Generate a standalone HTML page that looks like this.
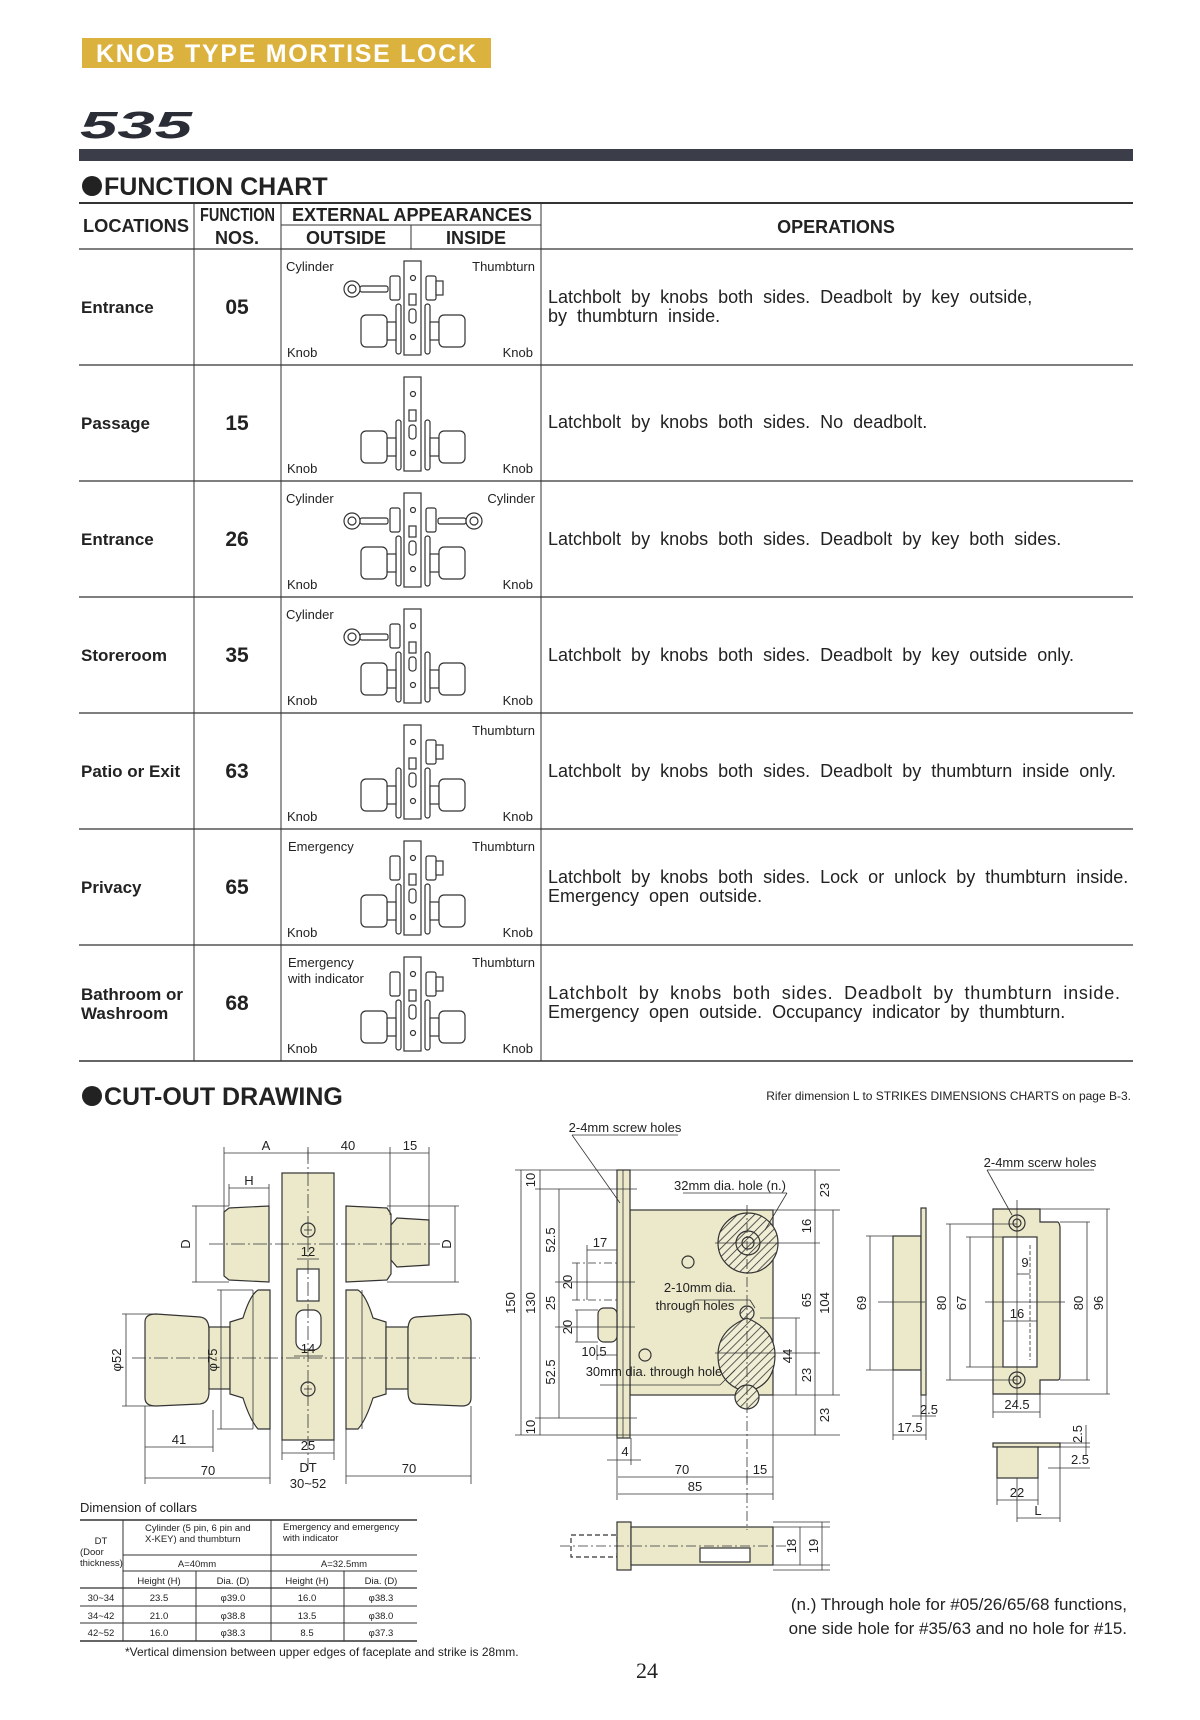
<!DOCTYPE html>
<html><head><meta charset="utf-8"><style>
html,body{margin:0;padding:0;background:#fff}
svg{display:block}
text{font-family:"Liberation Sans",sans-serif;fill:#222}
.n{font-family:"Liberation Sans Narrow","Liberation Sans",sans-serif}
.op text{word-spacing:5px}
</style></head><body>
<svg width="1200" height="1720" viewBox="0 0 1200 1720" xmlns="http://www.w3.org/2000/svg">
<defs>
<g id="base" stroke="#333" stroke-width="1.2" fill="#fff">
 <rect x="404" y="12" width="17" height="94"/>
 <circle cx="413" cy="29" r="2.5"/><circle cx="413" cy="88" r="2.5"/>
 <rect x="409" y="45" width="7" height="11"/><rect x="409" y="60" width="7" height="14" rx="3"/>
 <rect x="396" y="55" width="5" height="50" rx="2.5"/>
 <rect x="387" y="73" width="9" height="18"/>
 <rect x="361" y="66" width="26" height="32" rx="5"/>
 <rect x="425" y="55" width="5" height="50" rx="2.5"/>
 <rect x="430" y="73" width="9" height="18"/>
 <rect x="439" y="66" width="26" height="32" rx="5"/>
</g>
<g id="lcyl" stroke="#333" stroke-width="1.2" fill="#fff"><rect x="390" y="27" width="10" height="24" rx="2"/></g>
<g id="lkey" stroke="#333" stroke-width="1.2" fill="#fff">
 <rect x="360" y="37" width="28" height="6" rx="2"/><circle cx="352" cy="40" r="8"/><circle cx="352" cy="40" r="4"/></g>
<g id="rcyl" stroke="#333" stroke-width="1.2" fill="#fff"><rect x="426" y="27" width="10" height="24" rx="2"/></g>
<g id="tt" stroke="#333" stroke-width="1.2" fill="#fff"><rect x="436" y="32" width="7" height="14"/></g>
<g id="rkey" stroke="#333" stroke-width="1.2" fill="#fff">
 <rect x="438" y="37" width="28" height="6" rx="2"/><circle cx="474" cy="40" r="8"/><circle cx="474" cy="40" r="4"/></g>
<pattern id="hat" width="6" height="6" patternUnits="userSpaceOnUse" patternTransform="rotate(45)">
 <rect width="6" height="6" fill="#f1eed6"/><line x1="0" y1="0" x2="0" y2="6" stroke="#333" stroke-width="1.6"/></pattern>
</defs>

<!-- header -->
<rect x="82" y="38" width="409" height="30" fill="#dcb23e"/>
<text x="96" y="62" font-size="25" font-weight="bold" style="fill:#fff" textLength="380">KNOB TYPE MORTISE LOCK</text>
<text x="80" y="138" font-size="38" font-weight="bold" font-style="italic" style="fill:#2b2d36" textLength="112" lengthAdjust="spacingAndGlyphs">535</text>
<rect x="79" y="149" width="1054" height="12" fill="#3b3e49"/>
<circle cx="92" cy="186" r="10" fill="#222"/>
<text x="104" y="195" font-size="25" font-weight="bold">FUNCTION CHART</text>

<!-- table lines -->
<g stroke="#333" fill="none">
 <line x1="79" y1="203" x2="1133" y2="203" stroke-width="2"/>
 <line x1="281" y1="225" x2="541" y2="225" stroke-width="1"/>
 <line x1="79" y1="249" x2="1133" y2="249" stroke-width="1.3"/>
 <line x1="79" y1="365" x2="1133" y2="365" stroke-width="1.3"/>
 <line x1="79" y1="481" x2="1133" y2="481" stroke-width="1.3"/>
 <line x1="79" y1="597" x2="1133" y2="597" stroke-width="1.3"/>
 <line x1="79" y1="713" x2="1133" y2="713" stroke-width="1.3"/>
 <line x1="79" y1="829" x2="1133" y2="829" stroke-width="1.3"/>
 <line x1="79" y1="945" x2="1133" y2="945" stroke-width="1.3"/>
 <line x1="79" y1="1061" x2="1133" y2="1061" stroke-width="1.6"/>
 <line x1="194" y1="203" x2="194" y2="1061" stroke-width="1"/>
 <line x1="281" y1="203" x2="281" y2="1061" stroke-width="1"/>
 <line x1="541" y1="203" x2="541" y2="1061" stroke-width="1"/>
 <line x1="411" y1="225" x2="411" y2="249" stroke-width="1"/>
</g>
<g font-size="18" font-weight="bold">
 <text x="83" y="232" textLength="106" lengthAdjust="spacingAndGlyphs">LOCATIONS</text>
 <text x="200" y="221" textLength="75" lengthAdjust="spacingAndGlyphs">FUNCTION</text>
 <text x="237" y="244" text-anchor="middle">NOS.</text>
 <text x="292" y="221" textLength="240" lengthAdjust="spacingAndGlyphs">EXTERNAL APPEARANCES</text>
 <text x="346" y="244" text-anchor="middle">OUTSIDE</text>
 <text x="476" y="244" text-anchor="middle">INSIDE</text>
 <text x="836" y="233" text-anchor="middle">OPERATIONS</text>
</g>

<!-- rows -->
<g font-size="17" font-weight="bold">
 <text x="81" y="313">Entrance</text>
 <text x="81" y="429">Passage</text>
 <text x="81" y="545">Entrance</text>
 <text x="81" y="661">Storeroom</text>
 <text x="81" y="777">Patio or Exit</text>
 <text x="81" y="893">Privacy</text>
 <text x="81" y="1000">Bathroom or</text>
 <text x="81" y="1019">Washroom</text>
</g>
<g font-size="21" font-weight="bold" text-anchor="middle">
 <text x="237" y="314">05</text><text x="237" y="430">15</text><text x="237" y="546">26</text>
 <text x="237" y="662">35</text><text x="237" y="778">63</text><text x="237" y="894">65</text><text x="237" y="1010">68</text>
</g>
<g font-size="18" class="op">
 <text x="548" y="303">Latchbolt by knobs both sides. Deadbolt by key outside,</text>
 <text x="548" y="322">by thumbturn inside.</text>
 <text x="548" y="428">Latchbolt by knobs both sides. No deadbolt.</text>
 <text x="548" y="545">Latchbolt by knobs both sides. Deadbolt by key both sides.</text>
 <text x="548" y="661">Latchbolt by knobs both sides. Deadbolt by key outside only.</text>
 <text x="548" y="777">Latchbolt by knobs both sides. Deadbolt by thumbturn inside only.</text>
 <text x="548" y="883">Latchbolt by knobs both sides. Lock or unlock by thumbturn inside.</text>
 <text x="548" y="902">Emergency open outside.</text>
 <text x="548" y="999" textLength="572">Latchbolt by knobs both sides. Deadbolt by thumbturn inside.</text>
 <text x="548" y="1018">Emergency open outside. Occupancy indicator by thumbturn.</text>
</g>

<!-- icons -->
<g transform="translate(0,249)"><use href="#base"/><use href="#lcyl"/><use href="#lkey"/><use href="#rcyl"/><use href="#tt"/></g>
<g transform="translate(0,365)"><use href="#base"/></g>
<g transform="translate(0,481)"><use href="#base"/><use href="#lcyl"/><use href="#lkey"/><use href="#rcyl"/><use href="#rkey"/></g>
<g transform="translate(0,597)"><use href="#base"/><use href="#lcyl"/><use href="#lkey"/></g>
<g transform="translate(0,713)"><use href="#base"/><use href="#rcyl"/><use href="#tt"/></g>
<g transform="translate(0,829)"><use href="#base"/><use href="#lcyl"/><use href="#rcyl"/><use href="#tt"/></g>
<g transform="translate(0,945)"><use href="#base"/><use href="#lcyl"/><use href="#rcyl"/><use href="#tt"/></g>

<g font-size="13" class="n">
 <text x="286" y="271">Cylinder</text><text x="535" y="271" text-anchor="end">Thumbturn</text>
 <text x="287" y="357">Knob</text><text x="533" y="357" text-anchor="end">Knob</text>
 <text x="287" y="473">Knob</text><text x="533" y="473" text-anchor="end">Knob</text>
 <text x="286" y="503">Cylinder</text><text x="535" y="503" text-anchor="end">Cylinder</text>
 <text x="287" y="589">Knob</text><text x="533" y="589" text-anchor="end">Knob</text>
 <text x="286" y="619">Cylinder</text>
 <text x="287" y="705">Knob</text><text x="533" y="705" text-anchor="end">Knob</text>
 <text x="535" y="735" text-anchor="end">Thumbturn</text>
 <text x="287" y="821">Knob</text><text x="533" y="821" text-anchor="end">Knob</text>
 <text x="288" y="851">Emergency</text><text x="535" y="851" text-anchor="end">Thumbturn</text>
 <text x="287" y="937">Knob</text><text x="533" y="937" text-anchor="end">Knob</text>
 <text x="288" y="967">Emergency</text><text x="288" y="983">with indicator</text><text x="535" y="967" text-anchor="end">Thumbturn</text>
 <text x="287" y="1053">Knob</text><text x="533" y="1053" text-anchor="end">Knob</text>
</g>

<!-- CUT-OUT -->
<circle cx="92" cy="1096" r="10" fill="#222"/>
<text x="104" y="1105" font-size="25" font-weight="bold">CUT-OUT DRAWING</text>
<text x="1131" y="1100" font-size="12" text-anchor="end" class="n">Rifer dimension L to STRIKES DIMENSIONS CHARTS on page B-3.</text>

<!-- left assembly -->
<g stroke="#333" stroke-width="1.2" fill="#ece9cb">
 <rect x="282" y="1173" width="52" height="267"/>
 <path d="M224 1212 L229 1208 L269 1206 L269 1282 L229 1280 L224 1276 Z"/>
 <path d="M346 1206 L387 1208 L391 1214 L391 1274 L387 1280 L346 1282 Z"/>
 <path d="M391 1225 L397 1218 L429 1220 L429 1265 L397 1267 L391 1260 Z"/>
 <path d="M145 1322 Q145 1314 156 1314 L200 1317 Q209 1318 209 1330 L209 1392 Q209 1403 200 1404 L156 1406 Q145 1406 145 1398 Z"/>
 <rect x="209" y="1327" width="21" height="62"/>
 <path d="M230 1322 L243 1318 Q250 1295 258 1290 L270 1290 L270 1429 L258 1429 Q250 1420 243 1398 L230 1394 Z"/>
 <path d="M346 1290 L358 1290 Q366 1295 373 1318 L386 1322 L386 1394 L373 1398 Q366 1420 358 1429 L346 1429 Z"/>
 <rect x="386" y="1327" width="22" height="62"/>
 <path d="M408 1330 Q408 1318 416 1317 L462 1314 Q471 1314 471 1322 L471 1398 Q471 1406 462 1406 L416 1404 Q408 1403 408 1392 Z"/>
 <rect x="297" y="1269" width="22" height="32" fill="#fff"/>
 <rect x="296" y="1310" width="25" height="40" rx="8" fill="#fff"/>
 <circle cx="308" cy="1230" r="7"/><circle cx="308" cy="1389" r="7"/>
</g>
<g stroke="#333" stroke-width="0.8" fill="none">
 <line x1="253" y1="1290" x2="253" y2="1429"/><line x1="362" y1="1290" x2="362" y2="1429"/>
 <line x1="304" y1="1230" x2="312" y2="1230"/><line x1="308" y1="1226" x2="308" y2="1234"/>
 <line x1="304" y1="1389" x2="312" y2="1389"/><line x1="308" y1="1385" x2="308" y2="1393"/>
 <line x1="209" y1="1244" x2="440" y2="1244" stroke-dasharray="14 3 2 3"/>
 <line x1="132" y1="1358" x2="480" y2="1358" stroke-dasharray="14 3 2 3"/>
 <line x1="308" y1="1150" x2="308" y2="1470" stroke-dasharray="14 3 2 3"/>
 <line x1="224" y1="1153" x2="429" y2="1153"/>
 <line x1="224" y1="1147" x2="224" y2="1212"/><line x1="308" y1="1147" x2="308" y2="1160"/><line x1="390" y1="1147" x2="390" y2="1215"/><line x1="429" y1="1147" x2="429" y2="1220"/>
 <line x1="229" y1="1188" x2="269" y2="1188"/><line x1="229" y1="1184" x2="229" y2="1206"/><line x1="269" y1="1184" x2="269" y2="1206"/>
 <line x1="196" y1="1206" x2="196" y2="1282"/><line x1="192" y1="1206" x2="229" y2="1206"/><line x1="192" y1="1282" x2="229" y2="1282"/>
 <line x1="455" y1="1206" x2="455" y2="1282"/><line x1="387" y1="1206" x2="459" y2="1206"/><line x1="387" y1="1282" x2="459" y2="1282"/>
 <line x1="126" y1="1314" x2="126" y2="1406"/><line x1="122" y1="1314" x2="156" y2="1314"/><line x1="122" y1="1406" x2="156" y2="1406"/>
 <line x1="221" y1="1290" x2="221" y2="1429"/><line x1="217" y1="1290" x2="253" y2="1290"/><line x1="217" y1="1429" x2="253" y2="1429"/>
 <line x1="145" y1="1406" x2="145" y2="1484"/><line x1="213" y1="1410" x2="213" y2="1452"/><line x1="145" y1="1447" x2="213" y2="1447"/>
 <line x1="145" y1="1478" x2="270" y2="1478"/><line x1="270" y1="1429" x2="270" y2="1484"/>
 <line x1="346" y1="1429" x2="346" y2="1484"/><line x1="471" y1="1406" x2="471" y2="1484"/><line x1="346" y1="1476" x2="471" y2="1476"/>
 <line x1="282" y1="1440" x2="282" y2="1460"/><line x1="334" y1="1440" x2="334" y2="1460"/><line x1="282" y1="1453" x2="334" y2="1453"/>
 <line x1="297" y1="1259" x2="319" y2="1259"/><line x1="294" y1="1356" x2="323" y2="1356"/>
</g>
<g font-size="13" class="n" text-anchor="middle">
 <text x="266" y="1150">A</text><text x="348" y="1150">40</text><text x="410" y="1150">15</text>
 <text x="249" y="1185">H</text><text x="308" y="1256">12</text><text x="308" y="1353">14</text>
 <text x="179" y="1444">41</text><text x="308" y="1450">25</text><text x="208" y="1475">70</text><text x="409" y="1473">70</text>
 <text x="308" y="1472">DT</text><text x="308" y="1488">30~52</text>
 <text transform="translate(190,1244) rotate(-90)">D</text>
 <text transform="translate(451,1244) rotate(-90)">D</text>
 <text transform="translate(121,1360) rotate(-90)">φ52</text>
 <text transform="translate(217,1360) rotate(-90)">φ75</text>
</g>

<!-- collars table -->
<text x="80" y="1512" font-size="13" class="n">Dimension of collars</text>
<g stroke="#333" fill="none">
 <line x1="80" y1="1520" x2="417" y2="1520" stroke-width="1.5"/>
 <line x1="123" y1="1555" x2="417" y2="1555"/><line x1="123" y1="1571" x2="417" y2="1571"/>
 <line x1="80" y1="1588" x2="417" y2="1588" stroke-width="1.3"/>
 <line x1="80" y1="1606" x2="417" y2="1606"/><line x1="80" y1="1623" x2="417" y2="1623"/>
 <line x1="80" y1="1641" x2="417" y2="1641" stroke-width="1.5"/>
 <line x1="123" y1="1520" x2="123" y2="1641"/><line x1="271" y1="1520" x2="271" y2="1641"/>
 <line x1="196" y1="1571" x2="196" y2="1641"/><line x1="344" y1="1571" x2="344" y2="1641"/>
</g>
<g font-size="9.5" class="n">
 <text x="101" y="1544" text-anchor="middle">DT</text><text x="80" y="1555">(Door</text><text x="80" y="1566">thickness)</text>
 <text x="145" y="1531">Cylinder (5 pin, 6 pin and</text><text x="145" y="1542">X-KEY) and thumbturn</text>
 <text x="283" y="1530">Emergency and emergency</text><text x="283" y="1541">with indicator</text>
 <text x="197" y="1567" text-anchor="middle">A=40mm</text><text x="344" y="1567" text-anchor="middle">A=32.5mm</text>
 <g text-anchor="middle">
 <text x="159" y="1584">Height (H)</text><text x="233" y="1584">Dia. (D)</text><text x="307" y="1584">Height (H)</text><text x="381" y="1584">Dia. (D)</text>
 <text x="101" y="1601">30~34</text><text x="159" y="1601">23.5</text><text x="233" y="1601">φ39.0</text><text x="307" y="1601">16.0</text><text x="381" y="1601">φ38.3</text>
 <text x="101" y="1619">34~42</text><text x="159" y="1619">21.0</text><text x="233" y="1619">φ38.8</text><text x="307" y="1619">13.5</text><text x="381" y="1619">φ38.0</text>
 <text x="101" y="1636">42~52</text><text x="159" y="1636">16.0</text><text x="233" y="1636">φ38.3</text><text x="307" y="1636">8.5</text><text x="381" y="1636">φ37.3</text>
 </g>
</g>
<text x="125" y="1656" font-size="12" class="n">*Vertical dimension between upper edges of faceplate and strike is 28mm.</text>

<!-- middle mortise drawing -->
<g stroke="#333" stroke-width="1.2" fill="#ece9cb">
 <rect x="630" y="1210" width="143" height="185"/>
 <rect x="617" y="1170" width="13" height="268"/>
 <rect x="598" y="1308" width="19" height="34" rx="6"/>
 <ellipse cx="748" cy="1243" rx="30" ry="30" fill="url(#hat)"/>
 <circle cx="748" cy="1243" r="12" fill="none"/><circle cx="748" cy="1243" r="6" fill="none"/>
 <circle cx="747" cy="1313" r="7" fill="url(#hat)"/>
 <path d="M747 1318 Q775 1330 775 1355 Q775 1385 747 1392 Q718 1385 718 1355 Q718 1330 747 1318 Z" fill="url(#hat)"/>
 <circle cx="747" cy="1397" r="12" fill="url(#hat)"/>
 <circle cx="688" cy="1262" r="6" fill="none"/><circle cx="645" cy="1355" r="6" fill="none"/>
 <rect x="571" y="1535" width="46" height="22" fill="none" stroke-dasharray="5 3"/>
 <rect x="617" y="1522" width="14" height="48"/>
 <rect x="631" y="1527" width="142" height="38"/>
 <rect x="700" y="1548" width="50" height="14" fill="#fff"/>
</g>
<line x1="623" y1="1170" x2="623" y2="1438" stroke="#333" stroke-width="0.8"/>
<g stroke="#333" stroke-width="0.8" fill="none">
 <line x1="572" y1="1135" x2="678" y2="1135"/><line x1="572" y1="1135" x2="620" y2="1203"/>
 <line x1="515" y1="1170" x2="840" y2="1170"/><line x1="515" y1="1435" x2="630" y2="1435"/>
 <line x1="535" y1="1189" x2="637" y2="1189"/><line x1="535" y1="1418" x2="637" y2="1418"/>
 <line x1="521" y1="1170" x2="521" y2="1435"/><line x1="540" y1="1170" x2="540" y2="1435"/><line x1="559" y1="1189" x2="559" y2="1418"/>
 <line x1="555" y1="1282" x2="635" y2="1282"/><line x1="555" y1="1327" x2="635" y2="1327"/>
 <line x1="572" y1="1263" x2="617" y2="1263" stroke-dasharray="8 3 2 3"/><line x1="572" y1="1300" x2="617" y2="1300" stroke-dasharray="8 3 2 3"/>
 <line x1="575" y1="1310" x2="598" y2="1310"/><line x1="575" y1="1342" x2="598" y2="1342"/>
 <line x1="577" y1="1263" x2="577" y2="1300"/><line x1="577" y1="1310" x2="577" y2="1342"/>
 <line x1="587" y1="1250" x2="617" y2="1250"/><line x1="587" y1="1245" x2="587" y2="1300"/>
 <line x1="597" y1="1355" x2="617" y2="1355"/><line x1="597" y1="1345" x2="597" y2="1360"/>
 <line x1="683" y1="1193" x2="787" y2="1193"/><line x1="787" y1="1193" x2="765" y2="1230"/>
 <line x1="695" y1="1300" x2="750" y2="1300"/><line x1="750" y1="1300" x2="755" y2="1308"/>
 <line x1="600" y1="1385" x2="720" y2="1385"/><line x1="720" y1="1385" x2="735" y2="1370"/>
 <line x1="773" y1="1210" x2="840" y2="1210"/><line x1="773" y1="1395" x2="840" y2="1395"/>
 <line x1="715" y1="1243" x2="820" y2="1243"/><line x1="715" y1="1353" x2="820" y2="1353"/>
 <line x1="760" y1="1318" x2="800" y2="1318"/>
 <line x1="747" y1="1205" x2="747" y2="1530" stroke-dasharray="10 3 2 3"/>
 <line x1="815" y1="1170" x2="815" y2="1435"/><line x1="833" y1="1210" x2="833" y2="1395"/><line x1="796" y1="1318" x2="796" y2="1395"/>
 <line x1="630" y1="1435" x2="840" y2="1435"/>
 <line x1="617" y1="1438" x2="617" y2="1500"/><line x1="631" y1="1438" x2="631" y2="1465"/><line x1="773" y1="1395" x2="773" y2="1500"/>
 <line x1="607" y1="1460" x2="641" y2="1460"/>
 <line x1="618" y1="1477" x2="773" y2="1477"/><line x1="618" y1="1494" x2="773" y2="1494"/><line x1="747" y1="1470" x2="747" y2="1483"/>
 <line x1="560" y1="1546" x2="790" y2="1546" stroke-dasharray="10 3 2 3"/>
 <line x1="773" y1="1527" x2="830" y2="1527"/><line x1="773" y1="1565" x2="830" y2="1565"/><line x1="773" y1="1522" x2="830" y2="1522"/><line x1="773" y1="1570" x2="830" y2="1570"/>
 <line x1="800" y1="1527" x2="800" y2="1565"/><line x1="822" y1="1522" x2="822" y2="1570"/>
</g>
<g font-size="13" class="n" text-anchor="middle">
 <text x="625" y="1132">2-4mm screw holes</text>
 <text x="730" y="1190">32mm dia. hole (n.)</text>
 <text x="700" y="1292">2-10mm dia.</text><text x="695" y="1310">through holes</text>
 <text x="654" y="1376">30mm dia. through hole</text>
 <text x="600" y="1247">17</text><text x="594" y="1356">10.5</text>
 <text x="625" y="1456">4</text><text x="682" y="1474">70</text><text x="760" y="1474">15</text><text x="695" y="1491">85</text>
 <text transform="translate(515,1303) rotate(-90)">150</text>
 <text transform="translate(535,1303) rotate(-90)">130</text>
 <text transform="translate(555,1240) rotate(-90)">52.5</text>
 <text transform="translate(555,1303) rotate(-90)">25</text>
 <text transform="translate(555,1372) rotate(-90)">52.5</text>
 <text transform="translate(535,1180) rotate(-90)">10</text>
 <text transform="translate(535,1427) rotate(-90)">10</text>
 <text transform="translate(572,1282) rotate(-90)">20</text>
 <text transform="translate(572,1327) rotate(-90)">20</text>
 <text transform="translate(829,1190) rotate(-90)">23</text>
 <text transform="translate(811,1226) rotate(-90)">16</text>
 <text transform="translate(811,1300) rotate(-90)">65</text>
 <text transform="translate(829,1303) rotate(-90)">104</text>
 <text transform="translate(792,1356) rotate(-90)">44</text>
 <text transform="translate(811,1375) rotate(-90)">23</text>
 <text transform="translate(829,1415) rotate(-90)">23</text>
 <text transform="translate(796,1546) rotate(-90)">18</text>
 <text transform="translate(818,1546) rotate(-90)">19</text>
</g>

<!-- right strike drawings -->
<g stroke="#333" stroke-width="1.2" fill="#ece9cb">
 <rect x="893" y="1236" width="28" height="134"/>
 <rect x="921" y="1208" width="5" height="187"/>
 <path d="M993 1209 L1040 1209 L1040 1222 L1058 1222 Q1060 1224 1060 1228 L1060 1376 Q1060 1380 1058 1380 L1040 1380 L1040 1394 L993 1394 Z"/>
 <rect x="1003" y="1237" width="34" height="130" fill="#fff"/>
 <circle cx="1017" cy="1223" r="8"/><circle cx="1017" cy="1223" r="4"/>
 <circle cx="1017" cy="1380" r="8"/><circle cx="1017" cy="1380" r="4"/>
 <rect x="993" y="1443" width="67" height="4"/>
 <rect x="997" y="1447" width="41" height="31"/>
</g>
<g stroke="#333" stroke-width="0.8" fill="none">
 <line x1="987" y1="1170" x2="1094" y2="1170"/><line x1="987" y1="1170" x2="1012" y2="1215"/>
 <line x1="1030" y1="1245" x2="1030" y2="1360" stroke-dasharray="4 2"/>
 <line x1="870" y1="1236" x2="870" y2="1370"/><line x1="866" y1="1236" x2="893" y2="1236"/><line x1="866" y1="1370" x2="893" y2="1370"/>
 <line x1="950" y1="1224" x2="950" y2="1380"/><line x1="946" y1="1224" x2="1017" y2="1224"/><line x1="946" y1="1380" x2="1017" y2="1380"/>
 <line x1="970" y1="1237" x2="970" y2="1367"/><line x1="966" y1="1237" x2="1003" y2="1237"/><line x1="966" y1="1367" x2="1003" y2="1367"/>
 <line x1="1087" y1="1222" x2="1087" y2="1380"/><line x1="1060" y1="1222" x2="1090" y2="1222"/><line x1="1060" y1="1380" x2="1090" y2="1380"/>
 <line x1="1107" y1="1209" x2="1107" y2="1394"/><line x1="1040" y1="1209" x2="1110" y2="1209"/><line x1="1040" y1="1394" x2="1110" y2="1394"/>
 <line x1="878" y1="1302" x2="925" y2="1302"/><line x1="985" y1="1302" x2="1065" y2="1302"/><line x1="1017" y1="1200" x2="1017" y2="1404"/>
 <line x1="1017" y1="1274" x2="1030" y2="1274"/><line x1="1003" y1="1321" x2="1037" y2="1321"/>
 <line x1="993" y1="1394" x2="993" y2="1418"/><line x1="1040" y1="1394" x2="1040" y2="1418"/><line x1="993" y1="1412" x2="1040" y2="1412"/>
 <line x1="893" y1="1370" x2="893" y2="1440"/><line x1="926" y1="1395" x2="926" y2="1440"/><line x1="893" y1="1435" x2="926" y2="1435"/>
 <line x1="912" y1="1416" x2="936" y2="1416"/><line x1="921" y1="1395" x2="921" y2="1420"/>
 <line x1="997" y1="1478" x2="997" y2="1505"/><line x1="1038" y1="1478" x2="1038" y2="1505"/><line x1="997" y1="1500" x2="1038" y2="1500"/>
 <line x1="1017" y1="1478" x2="1017" y2="1522"/><line x1="1060" y1="1447" x2="1060" y2="1522"/><line x1="1017" y1="1518" x2="1060" y2="1518"/>
 <line x1="1060" y1="1443" x2="1090" y2="1443"/><line x1="1060" y1="1447" x2="1090" y2="1447"/><line x1="1086" y1="1425" x2="1086" y2="1455"/>
 <line x1="1048" y1="1468" x2="1090" y2="1468"/>
</g>
<g font-size="13" class="n" text-anchor="middle">
 <text x="1040" y="1167">2-4mm scerw holes</text>
 <text x="1025" y="1267">9</text><text x="1017" y="1318">16</text>
 <text x="1017" y="1409">24.5</text><text x="929" y="1414">2.5</text><text x="910" y="1432">17.5</text>
 <text x="1017" y="1497">22</text><text x="1038" y="1515">L</text><text x="1080" y="1464">2.5</text>
 <text transform="translate(866,1303) rotate(-90)">69</text>
 <text transform="translate(946,1303) rotate(-90)">80</text>
 <text transform="translate(966,1303) rotate(-90)">67</text>
 <text transform="translate(1083,1303) rotate(-90)">80</text>
 <text transform="translate(1103,1303) rotate(-90)">96</text>
 <text transform="translate(1082,1434) rotate(-90)">2.5</text>
</g>

<text x="1127" y="1610" font-size="17" class="n" text-anchor="end">(n.) Through hole for #05/26/65/68 functions,</text>
<text x="1127" y="1634" font-size="17" class="n" text-anchor="end">one side hole for #35/63 and no hole for #15.</text>
<text x="647" y="1678" font-size="22" text-anchor="middle" style="font-family:'Liberation Serif',serif">24</text>
</svg>
</body></html>
